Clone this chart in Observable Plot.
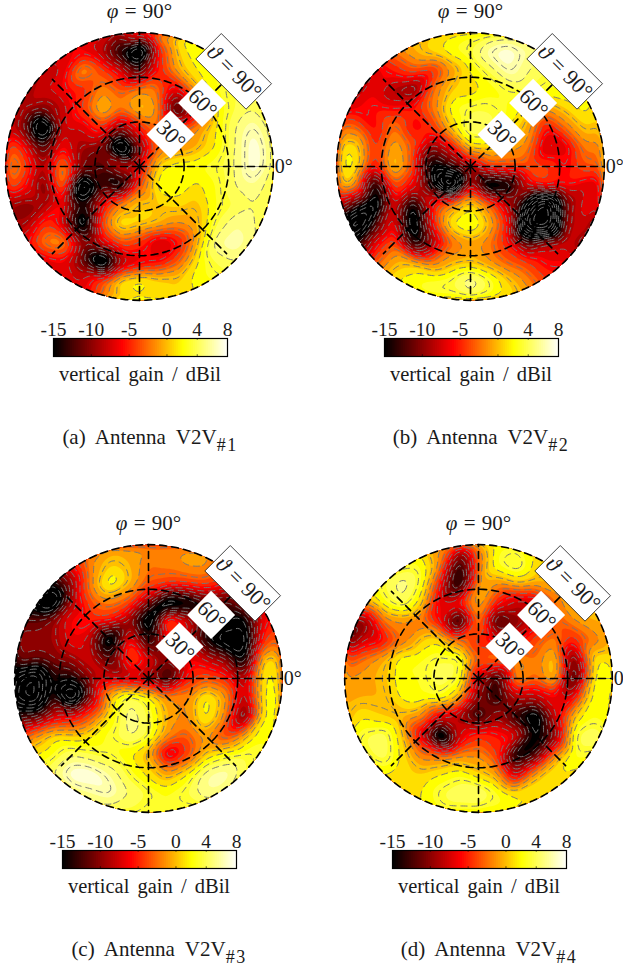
<!DOCTYPE html>
<html><head><meta charset="utf-8">
<script src="https://cdn.jsdelivr.net/npm/d3@7"></script>
<script src="https://cdn.jsdelivr.net/npm/@observablehq/plot@0.6"></script>
<style>
html,body{margin:0;padding:0;background:#fff;overflow:hidden}
#root{position:relative;width:623px;height:968px;overflow:hidden;font-family:"Liberation Serif",serif;color:#1a1a1a}
#root>*{position:absolute}
.t{white-space:pre;transform:translateX(-50%)}
.sub{font-size:18px;position:relative;top:7px;letter-spacing:1.5px}
svg text{font-family:"Liberation Serif",serif;word-spacing:1px}
</style></head><body><div id="root"></div>
<script>
const gainA=[
[-6,-6,-6,-6,-6,-6,-10,-3,1,2,3,3,3,3,3],
[-6,-6,-6,-6,-6,-8,-14,-22,-5,1,3,3,3,3,3],
[-8,-8,-8,-7,0,-3,-6,-12,-5,0,2,3,4,4,4],
[-9,-9,-7,-6,-5,-1,-3,-1,-2,-7,0,3,4,4,4],
[-8,-8,-10,-8,-4,1,-2,1,-1,-14,-6,2,4,5,3],
[-7,-10,-22,-7,-7,-4,-10,-5,-2,-3,-1,2,5,7,4],
[-2,-5,-12,-5,-9,-10,-22,-10,-2,-1,0,2,5,8,5],
[0,-3,-9,-0.5,-10,-12,-6,-6,1.5,3,3,3.5,5,8,5],
[-2,-5,-11,-0.5,-22,-12,-16,-3,3,3,1.5,3,5,6,4],
[-9,-10,-9,-5,-14,-6,-1,1,1,1.5,0.5,3,4,5,4],
[-9,-9,-4,-7,-18,-3,2.5,1.5,0.5,-1,0,4,6,5,4],
[-6,-6,-1.5,-0.5,-9,-6,-3,-4.5,-8,-6,0,6,7,5,4],
[-7,-7,-7,-6,-11,-20,-9,-7,-6,-3,2,4,5,4,4],
[-7,-7,-7,-7,-7,-3,2,3,1.5,1,2.5,3,3,3,3],
[-7,-7,-7,-7,-6,-3,0.5,1.5,1.5,1,2,3,3,3,3]];
const gainB=[
[0,0,0,0,0,1,2,3,3.5,4,5,5,4,4,4],
[-3,-3,-3,-2,0,1.5,3,4,7,8,6,5,4,4,4],
[-8,-8,-7,-5,-3,-5,-1,2,4,7,5,4,3.5,3,3],
[-8,-8,-6,-9,-11,-2,1,1,2.5,3.5,4,3,3,2,1],
[-7,-6,-5,-5.5,-5,-2,3,4,4,3,1.5,-1,1,2.5,1],
[-2,-2,-6,-1.5,-6,-4.5,1,5.5,4.5,2,0,-6,-2,1,0],
[1.5,2,-5,0.5,-3,-10,-6,1.5,1.5,-0.5,-1.5,-8,-7,-1.5,-2],
[2.5,2.5,-6,1.5,-3,-16,-12,-8,-3,-3,-3,-3.5,-6,-3,-3],
[1.5,0,-16,-2.5,-6,-14,-26,-6,-18,-16,-6,-4,-5,-7,-7],
[-6,-12,-18,-6,-16,-5,-1,2,-2,-8,-18,-26,-10,-6,-7],
[-14,-22,-12,-5,-18,-5,2.5,4,0.5,-5,-24,-26,-9,-7,-14],
[-14,-14,-6,-2.5,-15,-9,-2.5,-0.5,-2,-5,-12,-8,-7,-10,-12],
[-5,-5,-3,0,0.5,-2,0,0.5,-1,-3,-4,-6,-6,-6,-6],
[-2,-2,0,2,3,3.5,4,6.5,4,1,-1.5,-4,-4,-4,-4],
[0,0,0,1,2,3,3,4,3,2,0,-2,-2,-2,-2]];
const gainC=[
[-6,-6,-6,-5,-3,-1,-1,-1,-1,-1,-1,-3,-5,-5,-5],
[-7,-7,-7,-5,-1,1,0,-2,-1.5,-0.5,-0.5,-3,-5,-6,-6],
[-14,-14,-14,-9,-1,3.5,0.5,-3,-3.5,-3.5,-3,-5,-6,-6,-6],
[-16,-16,-20,-8,-3,-1.5,-3,-9,-18,-16,-12,-12,-8,-7,-7],
[-11,-11,-9,-5.5,-4.5,-5,-9,-18,-1,-6,-12,-14,-16,-6,-4],
[-9,-9,-9,-6,-8,-18,-4,-14,-5,-7,-14,-18,-18,-4,-2],
[-10,-11,-10,-9,-7,-12,-3,-6,-10,-6,-7,-9,-16,1.5,1],
[-18,-22,-13,-14,-9,-7,-8,-9,-14,-5,-3,-4,-9,2.5,2],
[-20,-22,-12,-22,-9,1,5,3,-1,-1.5,3,0,-9,2.5,3],
[-12,-12,-7,-6,-3,2,6,4,0,-1.5,3,-1,-12,2.5,2],
[-6,-1,1.5,1,2,3.5,5.5,4,-1,-3,-0.5,-4,0,3,2],
[0,2,3,5,4,3.5,2,0,-8,-4,1,3,4,3,3],
[3,3,5,8,8,6,3.5,1.5,-0.5,2,6,7,4,3,3],
[3,3,4,5,6,7,5,4,3,4,6,5,3,3,3],
[3,3,3,3,4,4,4,3,3,3,3,3,3,3,3]];
const gainD=[
[2,2,2,2,1,-1,-6,-1,3,3,2,2,2,2,2],
[2,2,2,2.5,3,-1,-14,-2,3.5,5,1.5,1,1,1,1],
[3,3,4,6,3.5,-5,-16,-0.5,-1,1,0,0,1,1,1],
[-1,0,3,5,1.5,-7,-5,0.5,-5,-8,-8,-2,1,1,1],
[-9,-10,-2,-1,-2,-6,-16,-1,-14,-10,-7,-3,-1,0,0],
[-13,-7,-6,-2,1,2,-2,-5,-7,-6,-3,-1,-5,-2,0],
[-4,-2,0,3,3,4,4.5,-3,-1.5,0,-2,1.5,-12,2,2],
[-1,-0.5,0.5,3,3,5,4,-8,-14,0,-2.5,1.5,-14,2.5,3],
[-0.5,0,0,2.5,3,3.5,0.5,-10,-14,-8,-8,-6,-6,3,2],
[0,2,1,0,-1,-7,-9,-14,-9,-14,-18,-7,1,3,2],
[1,4,5,1,-7,-20,-7,-4,-5,-6,-16,-10,4,5,3],
[3,3,5,1.5,-2,-2,-1,-1,-4,-16,-12,-1,3.5,3,3],
[2,2,2,1,1,2,3,1,-0.5,-8,0,2,1.5,1,1],
[1,1,1,1,2,4,5,5.5,3.5,2,2,2,1,1,1],
[1,1,1,1,2,3,3,3,3,2,2,2,1,1,1]];

const panelLetters=["a","b","c","d"];
const panelGains=[gainA,gainB,gainC,gainD];
const centerX=[139,470,148,478];
const centerY=[166,166,678,678];
const colorTicks=[-15,-10,-5,0,4,8];
const ringThetas=[30,60,90];
const spokePhis=[0,90,180,270];
const diagonalPhis=[45,135,225,315];
const labelThetas=[30,60,90];
const labelTexts=["30°","60°","ϑ = 90°"];

const color={type:"linear",domain:[-15,-6,2,8],range:["#000000","#ff0000","#ffff00","#ffffff"],clamp:true,interpolate:"rgb"};
const fillLevels=[-100,...d3.range(-15,9,1)];
const lineLevels=d3.range(-40,9,1.5);
const S=348, HALF=174;
const root=document.getElementById("root");
const rad=d=>d*Math.PI/180;

function panel(i){
  const g=panelGains[i], n=g.length;
  const pts=g.flatMap((row,r)=>row.map((v,c)=>({x:-1+2*c/(n-1),y:1-2*r/(n-1),v})));
  const rings=ringThetas.flatMap(t=>d3.range(0,361,3).map(a=>({t,a})));
  const spokes=spokePhis.flatMap(p=>[0,1].map(r=>({p,r})));
  const diags=diagonalPhis.flatMap(p=>[0,0.92].map(r=>({p,r})));
  const labels=labelThetas.map((t,j)=>({t,text:labelTexts[j]}));
  const boxes=(idx,{x,y})=>{
    const s=d3.create("svg:g");
    labels.forEach(l=>{
      const r=l.t/90, w=l.t==90?71:34, h=l.t==90?36:34;
      s.append("rect")
       .attr("x",-w/2).attr("y",-h/2).attr("width",w).attr("height",h)
       .attr("fill","#fff").attr("stroke",l.t==90?"#000":"none").attr("stroke-width",.7)
       .attr("transform",`translate(${x(r*Math.SQRT1_2)},${y(r*Math.SQRT1_2)}) rotate(45)`);
    });
    return s.node();
  };
  const chart=Plot.plot({
    width:S,height:S,margin:0,
    x:{domain:[-1.3,1.3],axis:null},y:{domain:[-1.3,1.3],axis:null},color,
    style:{background:"transparent",overflow:"visible"},
    marks:[
      Plot.contour(pts,{x:"x",y:"y",value:"v",fill:"value",interpolate:"barycentric",blur:2,thresholds:fillLevels,stroke:"none"}),
      Plot.contour(pts,{x:"x",y:"y",value:"v",interpolate:"barycentric",blur:2,thresholds:lineLevels,fill:"none",stroke:"#777",strokeWidth:1,strokeDasharray:"7,4"}),
      Plot.line([0,1],{x:d=>d,y:()=>0,stroke:"#888",strokeWidth:.8}),
      Plot.line(rings,{x:d=>d.t/90*Math.cos(rad(d.a)),y:d=>d.t/90*Math.sin(rad(d.a)),z:"t",stroke:"#000",strokeWidth:1.6,strokeDasharray:"7,5"}),
      Plot.line(spokes,{x:d=>d.r*Math.cos(rad(d.p)),y:d=>d.r*Math.sin(rad(d.p)),z:"p",stroke:"#000",strokeWidth:1.6,strokeDasharray:"7,5"}),
      Plot.line(diags,{x:d=>d.r*Math.cos(rad(d.p)),y:d=>d.r*Math.sin(rad(d.p)),z:"p",stroke:"#000",strokeWidth:1.6,strokeDasharray:"7,5"}),
      boxes,
      Plot.text(labels,{x:d=>d.t/90*Math.SQRT1_2,y:d=>d.t/90*Math.SQRT1_2,text:"text",rotate:45,fontSize:22,fill:"#1a1a1a"}),
      Plot.text(["φ = 90°"],{x:()=>0,y:()=>1.16,text:d=>d,fontSize:21,fill:"#1a1a1a"}),
      Plot.text(["0°"],{x:()=>1.01,y:()=>0,text:d=>d,textAnchor:"start",fontSize:20,fill:"#1a1a1a"})
    ]
  });
  const sx=chart.scale("x").apply, sy=chart.scale("y").apply;
  const id="clip"+i;
  const defs=d3.select(chart).insert("defs",":first-child");
  defs.append("clipPath").attr("id",id).append("circle").attr("cx",sx(0)).attr("cy",sy(0)).attr("r",sx(1)-sx(0));
  chart.querySelectorAll('g[aria-label="contour"]').forEach(el=>el.setAttribute("clip-path",`url(#${id})`));
  chart.querySelectorAll("text").forEach(el=>{
    const m=el.textContent.match(/^([φϑ])( = 90°)$/);
    if(m){ el.textContent=""; d3.select(el).append("tspan").attr("font-style","italic").text(m[1]); d3.select(el).append("tspan").text(m[2]); }
  });
  chart.style.left=(centerX[i]-HALF)+"px";
  chart.style.top=(centerY[i]-HALF)+"px";
  root.append(chart);

  // colour bar
  const barLeft=centerX[i]-86, barTop=centerY[i]+172;
  const steps=d3.range(-15,8,0.25);
  const M=24;
  const bar=Plot.plot({
    width:174+2*M,height:18+30,marginLeft:M,marginRight:M,marginTop:30,marginBottom:0,
    x:{domain:[-15,8]},y:{domain:[0,1],axis:null},color,
    style:{background:"transparent",overflow:"visible"},
    marks:[
      Plot.rect(steps,{x1:d=>d,x2:d=>Math.min(8,d+0.5),y1:()=>0,y2:()=>1,fill:d=>d}),
      Plot.ruleX(colorTicks,{y1:()=>0,y2:()=>0.1,stroke:"#000",strokeWidth:.6}),
      Plot.ruleX(colorTicks,{y1:()=>0.9,y2:()=>1,stroke:"#000",strokeWidth:.6}),
      Plot.frame({stroke:"#000",strokeWidth:1.2}),
      Plot.axisX({anchor:"top",ticks:colorTicks,tickSize:0,tickPadding:3,tickFormat:d=>String(d),fontSize:19.5,label:null,fill:"#1a1a1a"})
    ]
  });
  bar.style.left=(barLeft-M)+"px"; bar.style.top=(barTop-30)+"px";
  root.append(bar);

  const gainLabel=document.createElement("div");
  gainLabel.className="t";
  gainLabel.style.cssText=`left:${centerX[i]+1}px;top:${barTop+25}px;font-size:20.5px;word-spacing:3px`;
  gainLabel.textContent="vertical gain / dBil";
  root.append(gainLabel);

  const cap=document.createElement("div");
  cap.className="t";
  cap.style.cssText=`left:${centerX[i]+11}px;top:${centerY[i]+259}px;font-size:21px;word-spacing:5px`;
  cap.innerHTML=`(${panelLetters[i]}) Antenna V2V<span class="sub">#${i+1}</span>`;
  root.append(cap);
}
panelLetters.forEach((_,i)=>panel(i));
</script></body></html>
